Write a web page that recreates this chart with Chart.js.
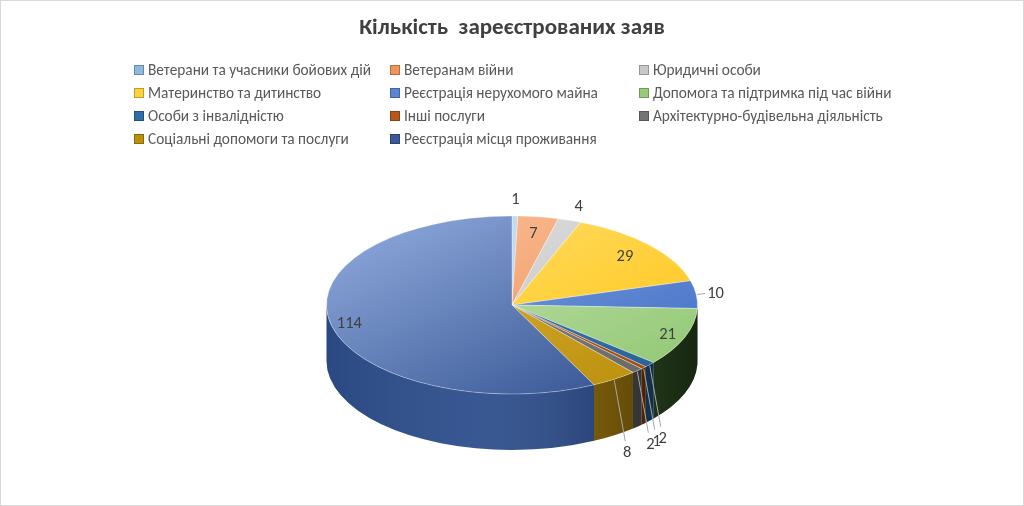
<!DOCTYPE html>
<html>
<head>
<meta charset="utf-8">
<script src="https://cdn.jsdelivr.net/npm/chart.js@4.4.1/dist/chart.umd.min.js"></script>
<style>
  html, body { margin: 0; padding: 0; background: #fff; }
  #wrap { position: relative; width: 1024px; height: 506px; box-sizing: border-box; border: 1px solid #d9d9d9; overflow: hidden; }
  #chart { position: absolute; left: -1px; top: -1px; }
  #title { position: absolute; left: 0; top: 11px; width: 1022px; text-align: center; font: bold 23px Carlito, "Liberation Sans Narrow", "Open Sans", sans-serif; color: #404040; white-space: pre; }
  .lg { position: absolute; font: 15.3px Carlito, "Liberation Sans Narrow", "Open Sans", sans-serif; color: #595959; white-space: nowrap; line-height: 16px; }
  .lg i { position: absolute; left: -14px; top: 3px; width: 8px; height: 8px; border: 1px solid rgba(0,0,0,0.25); }
</style>
</head>
<body>
<div id="wrap">
  <canvas id="chart" width="1024" height="506"></canvas>
  <div id="title">Кількість  зареєстрованих заяв</div>
</div>
<script>
const categories = [
  'Ветерани та учасники бойових дій',
  'Ветеранам війни',
  'Юридичні особи',
  'Материнство та дитинство',
  'Реєстрація нерухомого майна',
  'Допомога та підтримка під час війни',
  'Особи з інвалідністю',
  'Інші послуги',
  'Архітектурно-будівельна діяльність',
  'Соціальні допомоги та послуги',
  'Реєстрація місця проживання'
];
const counts = [1, 7, 4, 29, 10, 21, 2, 1, 2, 8, 114];

// colours: legend swatch, top face light/dark, side wall
const legendColors = ['#8DB8E2', '#F0955A', '#C8C8C8', '#FFD23A', '#5A86D2', '#97CC78', '#2E6DA8', '#B4581C', '#747474', '#B8900A', '#3A5A96'];
const topLight = ['#CFE2F5', '#FAC4A0', '#E2E2E2', '#FFE27A', '#86A8E4', '#CDE8BE', '#4485C2', '#C46A28', '#959595', '#E2B540', '#93AEDF'];
const topDark  = ['#A2C6E8', '#F08A4B', '#BFBFBF', '#FFC20A', '#3F6DC4', '#8DC56D', '#255E91', '#9E480E', '#636363', '#B88D08', '#2C4B8B'];
const sideColors = ['#7DA7D0', '#C0601F', '#9A9A9A', '#B38600', '#2F559A', '#2F4E22', '#1C4770', '#6E3209', '#4A4A4A', '#86650A', '#2E4E8C'];
const labelModes = ['out', 'in', 'out', 'in', 'out', 'in', 'below', 'below', 'below', 'below', 'in'];

const TILT = 0.48;
const DEPTH = 56;
const FONT = 'Carlito, "Liberation Sans Narrow", "Open Sans", sans-serif';

// legend (3 columns, like the original)
const legendCols = [147, 403, 652];
const legendRows = [61, 84, 107, 130];
const wrap = document.getElementById('wrap');
categories.forEach(function (name, i) {
  const d = document.createElement('div');
  d.className = 'lg';
  d.style.left = legendCols[i % 3] + 'px';
  d.style.top = legendRows[Math.floor(i / 3)] + 'px';
  d.innerHTML = '<i style="background:' + legendColors[i] + '"></i>' + name;
  wrap.appendChild(d);
});

function geom(chart) {
  const a = chart.getDatasetMeta(0).data[0];
  return { cx: a.x, cy: a.y, r: a.outerRadius, ry: a.outerRadius * TILT };
}

const pie3d = {
  id: 'pie3d',
  beforeDatasetsDraw(chart) {
    const ctx = chart.ctx;
    const arcs = chart.getDatasetMeta(0).data;
    const g = geom(chart);
    // side wall (front half only)
    arcs.forEach(function (arc, i) {
      const a0 = Math.max(arc.startAngle, 0);
      const a1 = Math.min(arc.endAngle, Math.PI);
      if (a1 <= a0) return;
      ctx.beginPath();
      ctx.ellipse(g.cx, g.cy, g.r, g.ry, 0, a0, a1);
      ctx.ellipse(g.cx, g.cy + DEPTH, g.r, g.ry, 0, a1, a0, true);
      ctx.closePath();
      ctx.fillStyle = sideColors[i];
      ctx.fill();
      const sh = ctx.createLinearGradient(g.cx - g.r, 0, g.cx + g.r, 0);
      sh.addColorStop(0, 'rgba(0,0,0,0.08)');
      sh.addColorStop(0.4, 'rgba(255,255,255,0.05)');
      sh.addColorStop(0.75, 'rgba(0,0,0,0.15)');
      sh.addColorStop(1, 'rgba(0,0,0,0.5)');
      ctx.fillStyle = sh;
      ctx.fill();
    });
    // squash the top face
    ctx.save();
    ctx.translate(0, g.cy);
    ctx.scale(1, TILT);
    ctx.translate(0, -g.cy);
  },
  afterDatasetsDraw(chart) {
    const ctx = chart.ctx;
    ctx.restore();
    const arcs = chart.getDatasetMeta(0).data;
    const g = geom(chart);
    ctx.save();
    ctx.font = '16.5px ' + FONT;
    ctx.fillStyle = '#404040';
    ctx.strokeStyle = '#A6A6A6';
    ctx.lineWidth = 1;
    ctx.textBaseline = 'middle';
    arcs.forEach(function (arc, i) {
      const mid = (arc.startAngle + arc.endAngle) / 2;
      const c = Math.cos(mid), s = Math.sin(mid);
      const ex = g.cx + g.r * c, ey = g.cy + g.ry * s;
      const txt = String(counts[i]);
      const mode = labelModes[i];
      if (mode === 'in') {
        const f = Math.abs(c) > 0.9 ? 0.9 : 0.82;
        ctx.textAlign = 'center';
        ctx.fillText(txt, g.cx + g.r * f * c, g.cy + g.ry * f * s + 1);
      } else if (mode === 'out') {
        let dx = ex - g.cx, dy = ey - g.cy;
        const L = Math.hypot(dx, dy);
        dx /= L; dy /= L;
        if (Math.abs(dx) > 0.8) {
          ctx.beginPath();
          ctx.moveTo(ex + 1, ey);
          ctx.lineTo(ex + 9, ey - 1);
          ctx.stroke();
          ctx.textAlign = 'left';
          ctx.fillText(txt, ex + 11, ey - 1);
        } else {
          ctx.textAlign = 'center';
          ctx.fillText(txt, ex + dx * 16, ey + dy * 16);
        }
      } else {
        ctx.beginPath();
        ctx.moveTo(ex, ey + 1);
        ctx.lineTo(ex + 11, ey + DEPTH + 6);
        ctx.stroke();
        ctx.textAlign = 'center';
        ctx.fillText(txt, ex + 13, ey + DEPTH + 18);
      }
    });
    ctx.restore();
  }
};

new Chart(document.getElementById('chart'), {
  type: 'pie',
  data: {
    labels: categories,
    datasets: [{
      data: counts,
      backgroundColor: function (context) {
        const chart = context.chart;
        const area = chart.chartArea;
        const i = context.dataIndex;
        if (!area) return topDark[i];
        const cy = (area.top + area.bottom) / 2;
        const r = (area.bottom - area.top) / 2;
        const grad = chart.ctx.createLinearGradient(area.left, cy - r, area.right, cy + r);
        grad.addColorStop(0, topLight[i]);
        grad.addColorStop(1, topDark[i]);
        return grad;
      },
      borderColor: 'rgba(255,255,255,0.45)',
      borderWidth: 1
    }]
  },
  options: {
    responsive: false,
    animation: false,
    layout: { padding: { top: 119, bottom: 15, left: 326, right: 326 } },
    plugins: {
      legend: { display: false },
      tooltip: { enabled: false }
    }
  },
  plugins: [pie3d]
});
</script>
</body>
</html>
